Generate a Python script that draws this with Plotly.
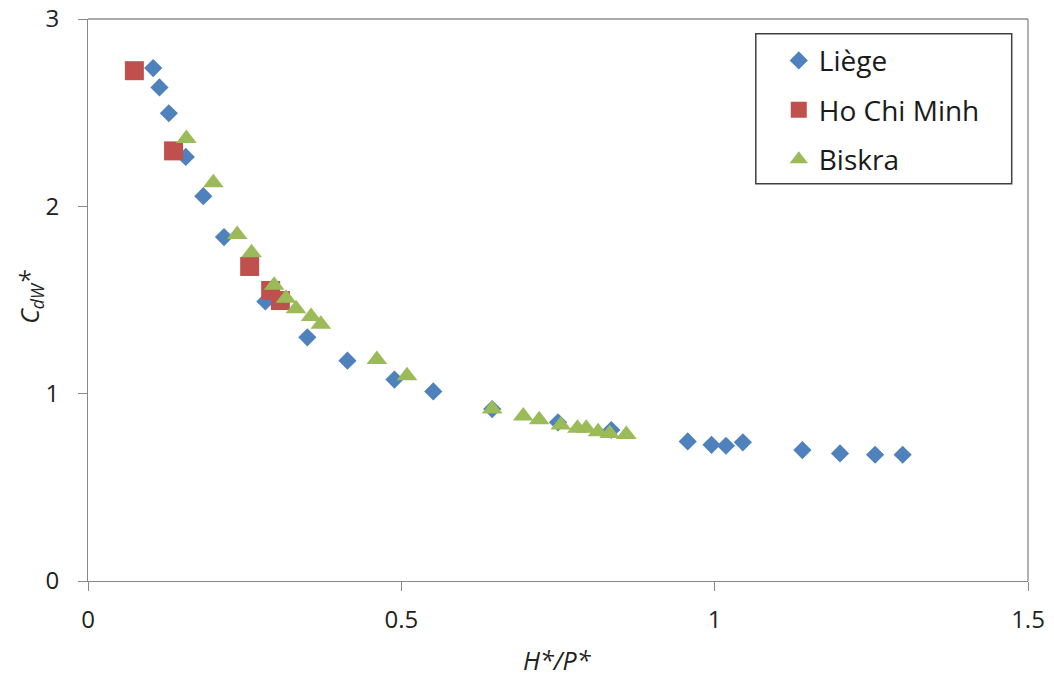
import plotly.graph_objects as go

liege_x = [0.104, 0.114, 0.129, 0.156, 0.184, 0.217, 0.283, 0.350, 0.414, 0.489, 0.551,
           0.645, 0.750, 0.835, 0.957, 0.995, 1.018, 1.045, 1.140, 1.200, 1.256, 1.300]
liege_y = [2.738, 2.635, 2.497, 2.264, 2.054, 1.836, 1.492, 1.301, 1.176, 1.075, 1.012,
           0.918, 0.847, 0.806, 0.745, 0.727, 0.722, 0.740, 0.699, 0.681, 0.674, 0.674]

hcm_x = [0.074, 0.1365, 0.258, 0.2915, 0.307]
hcm_y = [2.724, 2.296, 1.679, 1.551, 1.497]

biskra_x = [0.157, 0.200, 0.238, 0.261, 0.297, 0.316, 0.332, 0.356, 0.3715, 0.461,
            0.509, 0.645, 0.6945, 0.720, 0.7545, 0.781, 0.795, 0.814, 0.8325, 0.859]
biskra_y = [2.362, 2.126, 1.850, 1.752, 1.579, 1.510, 1.453, 1.412, 1.371, 1.183,
            1.095, 0.918, 0.881, 0.861, 0.833, 0.815, 0.815, 0.797, 0.788, 0.782]

series_names = ["Liège", "Ho Chi Minh", "Biskra"]
x_ticks = [0, 0.5, 1, 1.5]
x_tick_labels = ["0", "0.5", "1", "1.5"]
y_ticks = [0, 1, 2, 3]

FONT = "Open Sans"
W, H = 1054, 682
L, R, T, B = 88, 25.7, 19.3, 101

fig = go.Figure()
fig.add_trace(go.Scatter(x=liege_x, y=liege_y, mode="markers", name=series_names[0],
                         legendgroup="a",
                         marker=dict(symbol="diamond", size=14, color="#4F81BD")))
fig.add_trace(go.Scatter(x=hcm_x, y=hcm_y, mode="markers", name=series_names[1],
                         legendgroup="b",
                         marker=dict(symbol="square", size=19, color="#C0504D")))
fig.add_trace(go.Scatter(x=biskra_x, y=biskra_y, mode="markers", name=series_names[2],
                         legendgroup="c",
                         marker=dict(symbol="triangle-up", size=18, color="#9BBB59")))

pw = W - L - R
ph = H - T - B

def px2x(px):
    return (px - L) / pw

def py2y(py):
    return (H - B - py) / ph

axis_common = dict(showgrid=False, zeroline=False, showline=True, linecolor="#888888",
                   linewidth=1, mirror=False, ticks="outside", ticklen=9,
                   tickcolor="#888888", tickfont=dict(family=FONT, size=24, color="#222222"))

fig.update_layout(
    width=W, height=H,
    margin=dict(l=L, r=R, t=T, b=B, autoexpand=False),
    paper_bgcolor="white", plot_bgcolor="white",
    xaxis=dict(range=[0, 1.5], tickvals=x_ticks, ticktext=x_tick_labels,
               ticklabelstandoff=8, **axis_common),
    yaxis=dict(range=[0, 3], tickvals=y_ticks, ticklabelstandoff=14, **axis_common),
    showlegend=True,
    legend=dict(x=px2x(779), y=py2y(36), xanchor="left", yanchor="top",
                bgcolor="rgba(0,0,0,0)", borderwidth=0,
                font=dict(family=FONT, size=28, color="#1a1a1a"),
                tracegroupgap=10, itemsizing="trace"),
    shapes=[
        dict(type="line", xref="paper", yref="paper", x0=0, x1=1, y0=1, y1=1,
             line=dict(color="#555555", width=1)),
        dict(type="line", xref="paper", yref="paper", x0=1, x1=1, y0=0, y1=1,
             line=dict(color="#666666", width=1)),
        dict(type="rect", xref="paper", yref="paper",
             x0=px2x(756), x1=px2x(1012), y0=py2y(184), y1=py2y(34),
             line=dict(color="#404040", width=1.5), fillcolor="rgba(0,0,0,0)"),
    ],
    annotations=[
        dict(text="<i>H*/P*</i>", xref="paper", yref="paper", x=px2x(557), y=py2y(660),
             showarrow=False, font=dict(family=FONT, size=25, color="#222222"),
             xanchor="center", yanchor="middle"),
        dict(text="<i>C<sub>dW</sub>*</i>", xref="paper", yref="paper", x=px2x(31), y=py2y(297),
             showarrow=False, textangle=-90, font=dict(family=FONT, size=25, color="#222222"),
             xanchor="center", yanchor="middle"),
    ],
)

fig.write_html("out.html", config={"displayModeBar": False},
               post_script="document.body.style.margin='0';")
